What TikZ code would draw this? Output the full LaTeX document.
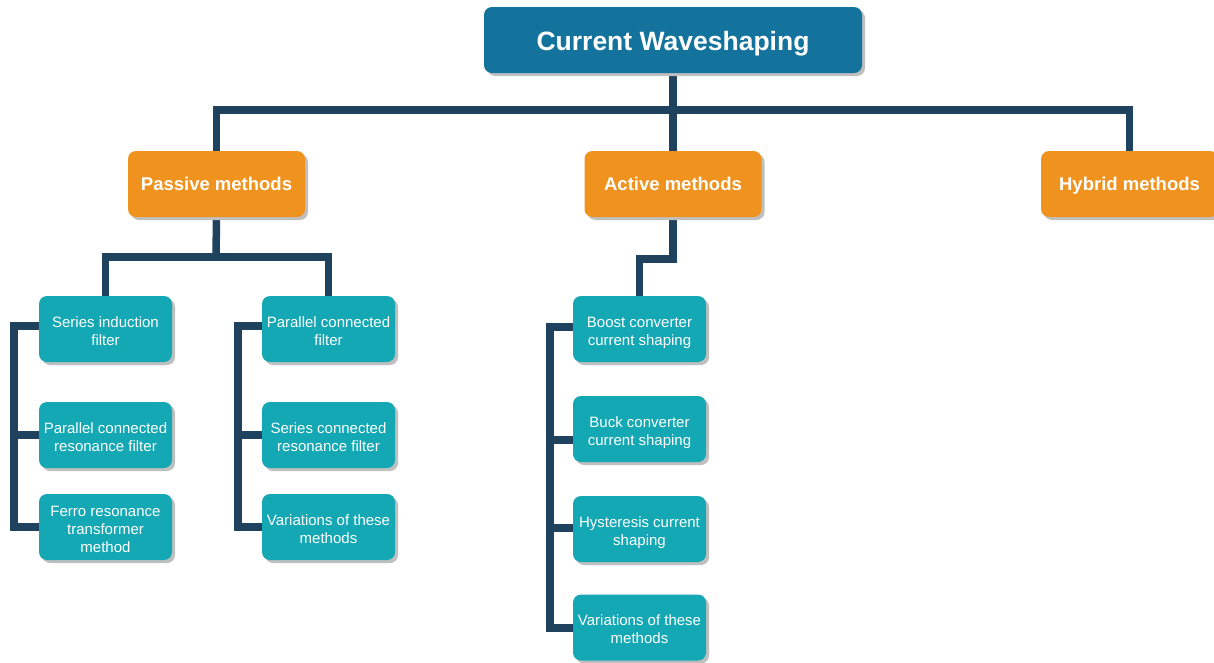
\documentclass[tikz,border=0pt]{standalone}
\usepackage{fontspec}
\setmainfont{Liberation Sans}
\usetikzlibrary{shadows,calc,backgrounds}
\definecolor{topblue}{HTML}{13739C}
\definecolor{orangebox}{HTML}{F0931E}
\definecolor{tealbox}{HTML}{13A8B4}
\definecolor{linecol}{HTML}{1F425E}
\tikzset{
  basebox/.style={rectangle, rounded corners=8pt, text=white, align=center, inner sep=0pt,
    drop shadow={shadow xshift=3pt, shadow yshift=-3pt, fill=black!25, opacity=1, rounded corners=8pt}},
  topbox/.style={basebox, fill=topblue, minimum width=378pt, minimum height=66pt,
    text height=20pt, text depth=0pt,
    font=\fontsize{26.5}{30}\selectfont\bfseries},
  catbox/.style={basebox, fill=orangebox, minimum width=177pt, minimum height=66pt,
    text height=13pt, text depth=0pt,
    font=\fontsize{18.5}{22}\selectfont\bfseries},
  leafbox/.style={basebox, fill=tealbox, minimum width=133pt, minimum height=66pt,
    font=\fontsize{15}{18}\selectfont},
  conn/.style={draw=linecol, line width=7.5pt, line join=miter}
}
\newcommand{\lowtext}[1]{\raisebox{-7pt}[0pt][0pt]{\begin{tabular}{@{}c@{}}#1\end{tabular}}}
\begin{document}
\begin{tikzpicture}[x=1pt,y=-1pt]
\useasboundingbox (0,0) rectangle (1214,662);
\coordinate (j0) at (673,110);
\coordinate (j1) at (216,257);
\coordinate (j2) at (673,259);
% nodes
\node[topbox] (top) at (673,40) {Current Waveshaping};
\node[catbox] (pas) at (216.5,184) {Passive methods};
\node[catbox] (act) at (673,184) {Active methods};
\node[catbox] (hyb) at (1129.5,184) {Hybrid methods};
\node[leafbox] (p1) at (105.5,329) {\lowtext{Series induction\\filter}};
\node[leafbox] (p2) at (105.5,435) {\lowtext{Parallel connected\\resonance filter}};
\node[leafbox] (p3) at (105.5,527) {\lowtext{Ferro resonance\\transformer\\method}};
\node[leafbox] (q1) at (328.5,329) {\lowtext{Parallel connected\\filter}};
\node[leafbox] (q2) at (328.5,435) {\lowtext{Series connected\\resonance filter}};
\node[leafbox] (q3) at (328.5,527) {\lowtext{Variations of these\\methods}};
\node[leafbox] (a1) at (639.5,329) {\lowtext{Boost converter\\current shaping}};
\node[leafbox] (a2) at (639.5,429) {\lowtext{Buck converter\\current shaping}};
\node[leafbox] (a3) at (639.5,529) {\lowtext{Hysteresis current\\shaping}};
\node[leafbox] (a4) at (639.5,627.5) {\lowtext{Variations of these\\methods}};
% connectors
\begin{scope}[on background layer]
\draw[conn] (top.south) -- (j0);
\draw[conn] (j0) -| (pas.north);
\draw[conn] (j0) -| (hyb.north);
\draw[conn] (j0) -- (act.north);
\draw[conn] (pas.south) -- (j1);
\draw[conn] (j1) -| (p1.north);
\draw[conn] (j1) -| (q1.north);
\draw[conn] (act.south) -- (j2) -| (a1.north);
\draw[conn] ([yshift=3pt]p1.west) -- ++(-25,0) |- (p3.west);
\draw[conn] (p2.west) -- ++(-25,0);
\draw[conn] ([yshift=3pt]q1.west) -- ++(-24,0) |- (q3.west);
\draw[conn] (q2.west) -- ++(-24,0);
\draw[conn] ([yshift=2pt]a1.west) -- ++(-23,0) |- ([yshift=-0.5pt]a4.west);
\draw[conn] ([yshift=-11pt]a2.west) -- ++(-23,0);
\draw[conn] ([yshift=1pt]a3.west) -- ++(-23,0);
\end{scope}
\end{tikzpicture}
\end{document}
